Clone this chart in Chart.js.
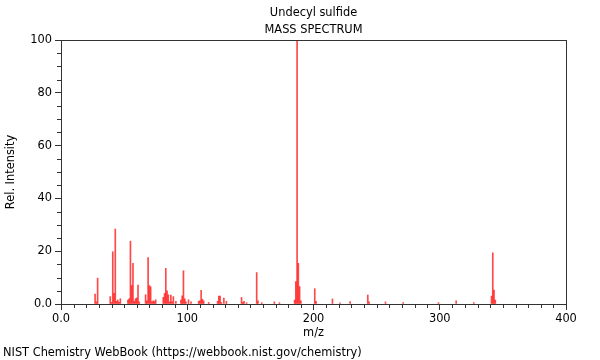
<!DOCTYPE html>
<html>
<head>
<meta charset="utf-8">
<title>Undecyl sulfide - Mass spectrum</title>
<script src="https://cdn.jsdelivr.net/npm/chart.js@4.4.1/dist/chart.umd.min.js"></script>
<style>
    html, body { margin: 0; padding: 0; background: #fff; }
</style>
</head>
<body>
<canvas id="spectrum" width="600" height="360"></canvas>
<script>
// m/z values and relative intensities
const mz = [
    27, 28, 29, 39, 40, 41, 42, 43, 44, 45, 46, 47,
    53, 54, 55, 56, 57, 58, 59, 60, 61, 62,
    67, 68, 69, 70, 71, 72, 73, 74, 75,
    81, 82, 83, 84, 85, 86, 87, 88, 89, 91,
    95, 96, 97, 98, 99, 101, 103,
    109, 110, 111, 112, 113, 117,
    124, 125, 126, 127, 129, 131,
    143, 144, 145, 147, 155, 156, 159, 169, 173,
    185, 186, 187, 188, 189, 190,
    201, 202, 215, 221, 229, 243, 244, 257, 271, 299, 313, 327,
    341, 342, 343, 344
];
const intensity = [
    3.8, 0.8, 9.8, 2.8, 0.6, 19.8, 4.0, 28.4, 1.0, 1.5, 0.6, 2.0,
    1.5, 2.0, 23.8, 7.0, 15.4, 1.0, 2.0, 2.3, 7.2, 0.8,
    3.5, 1.2, 17.6, 7.0, 6.5, 0.8, 1.2, 1.0, 1.6,
    2.5, 4.0, 13.5, 5.0, 3.5, 0.8, 3.4, 0.8, 2.8, 1.0,
    1.5, 3.1, 12.6, 2.0, 0.8, 1.6, 0.8,
    1.0, 1.2, 5.2, 1.8, 1.2, 0.6,
    1.0, 3.0, 3.0, 0.6, 2.2, 1.0,
    2.5, 0.6, 1.0, 0.5, 11.9, 1.2, 0.5, 0.8, 0.5,
    1.5, 8.5, 100, 15.4, 6.6, 1.2,
    5.8, 1.0, 1.9, 0.4, 0.9, 3.4, 0.8, 0.8, 0.5, 0.5, 1.2, 0.5,
    3.0, 19.4, 5.3, 1.5
];

const compoundName = 'Undecyl sulfide';
const chartKind = 'MASS SPECTRUM';
const footerText = 'NIST Chemistry WebBook (https://webbook.nist.gov/chemistry)';

const xMin = 0, xMax = 400, xMajor = 100, xMinor = 10;
const yMin = 0, yMax = 100, yMajor = 20, yMinor = 5;

const axisColor = '#333';
const fontSize = 11.4;
const font = { family: 'DejaVu Sans', size: fontSize };

// frame around the plot area, minor ticks, titles and the footer line
const decorations = {
    id: 'decorations',
    afterDraw(chart) {
        const ctx = chart.ctx;
        const area = chart.chartArea;
        const xs = chart.scales.x;
        const ys = chart.scales.y;
        ctx.save();
        ctx.strokeStyle = axisColor;
        ctx.lineWidth = 1;
        ctx.strokeRect(Math.round(area.left) + 0.5, Math.round(area.top) + 0.5,
            Math.round(area.right - area.left), Math.round(area.bottom - area.top));

        ctx.beginPath();
        for (let v = xMin; v <= xMax; v += xMinor) {
            if (v % xMajor === 0) continue;
            const px = Math.round(xs.getPixelForValue(v)) + 0.5;
            ctx.moveTo(px, Math.round(area.bottom));
            ctx.lineTo(px, Math.round(area.bottom) + 4);
        }
        for (let v = yMin; v <= yMax; v += yMinor) {
            if (v % yMajor === 0) continue;
            const py = Math.round(ys.getPixelForValue(v)) + 0.5;
            ctx.moveTo(Math.round(area.left), py);
            ctx.lineTo(Math.round(area.left) - 4, py);
        }
        ctx.stroke();

        ctx.fillStyle = '#000';
        ctx.font = fontSize + 'px "DejaVu Sans"';
        ctx.textBaseline = 'middle';
        ctx.textAlign = 'center';
        const cx = (area.left + area.right) / 2;
        ctx.fillText(compoundName, cx, 13);
        ctx.fillText(chartKind, cx, 30);

        ctx.textAlign = 'left';
        ctx.fillText(footerText, 3, 353);
        ctx.restore();
    }
};

new Chart(document.getElementById('spectrum'), {
    type: 'bar',
    data: {
        datasets: [{
            data: mz.map((m, i) => ({ x: m, y: intensity[i] })),
            backgroundColor: 'rgba(255, 0, 0, 0.72)',
            borderWidth: 0,
            barThickness: 1,
        }],
    },
    options: {
        responsive: false,
        animation: false,
        layout: { padding: { left: 0, right: 34, top: 40, bottom: 0 } },
        plugins: {
            legend: { display: false },
            tooltip: { enabled: false },
        },
        scales: {
            x: {
                type: 'linear',
                min: xMin,
                max: xMax,
                offset: false,
                afterFit: scale => { scale.height = 56; },
                ticks: {
                    stepSize: xMajor,
                    color: '#000',
                    font: font,
                    padding: 2,
                    maxRotation: 0,
                    callback: v => (v === 0 ? '0.0' : v),
                },
                grid: { drawOnChartArea: false, offset: false, color: axisColor, tickLength: 6 },
                border: { display: true, color: axisColor },
                title: {
                    display: true,
                    text: 'm/z',
                    color: '#000',
                    font: font,
                    padding: { top: 0, bottom: 20.2 },
                },
            },
            y: {
                min: yMin,
                max: yMax,
                afterFit: scale => { scale.width = 61; },
                ticks: {
                    stepSize: yMajor,
                    color: '#000',
                    font: font,
                    padding: 3,
                    callback: v => (v === 0 ? '0.0' : v),
                },
                grid: { drawOnChartArea: false, color: axisColor, tickLength: 6 },
                border: { display: true, color: axisColor },
                title: {
                    display: true,
                    text: 'Rel. Intensity',
                    color: '#000',
                    font: font,
                    padding: { top: 4.2, bottom: 0 },
                },
            },
        },
    },
    plugins: [decorations],
});
</script>
</body>
</html>
